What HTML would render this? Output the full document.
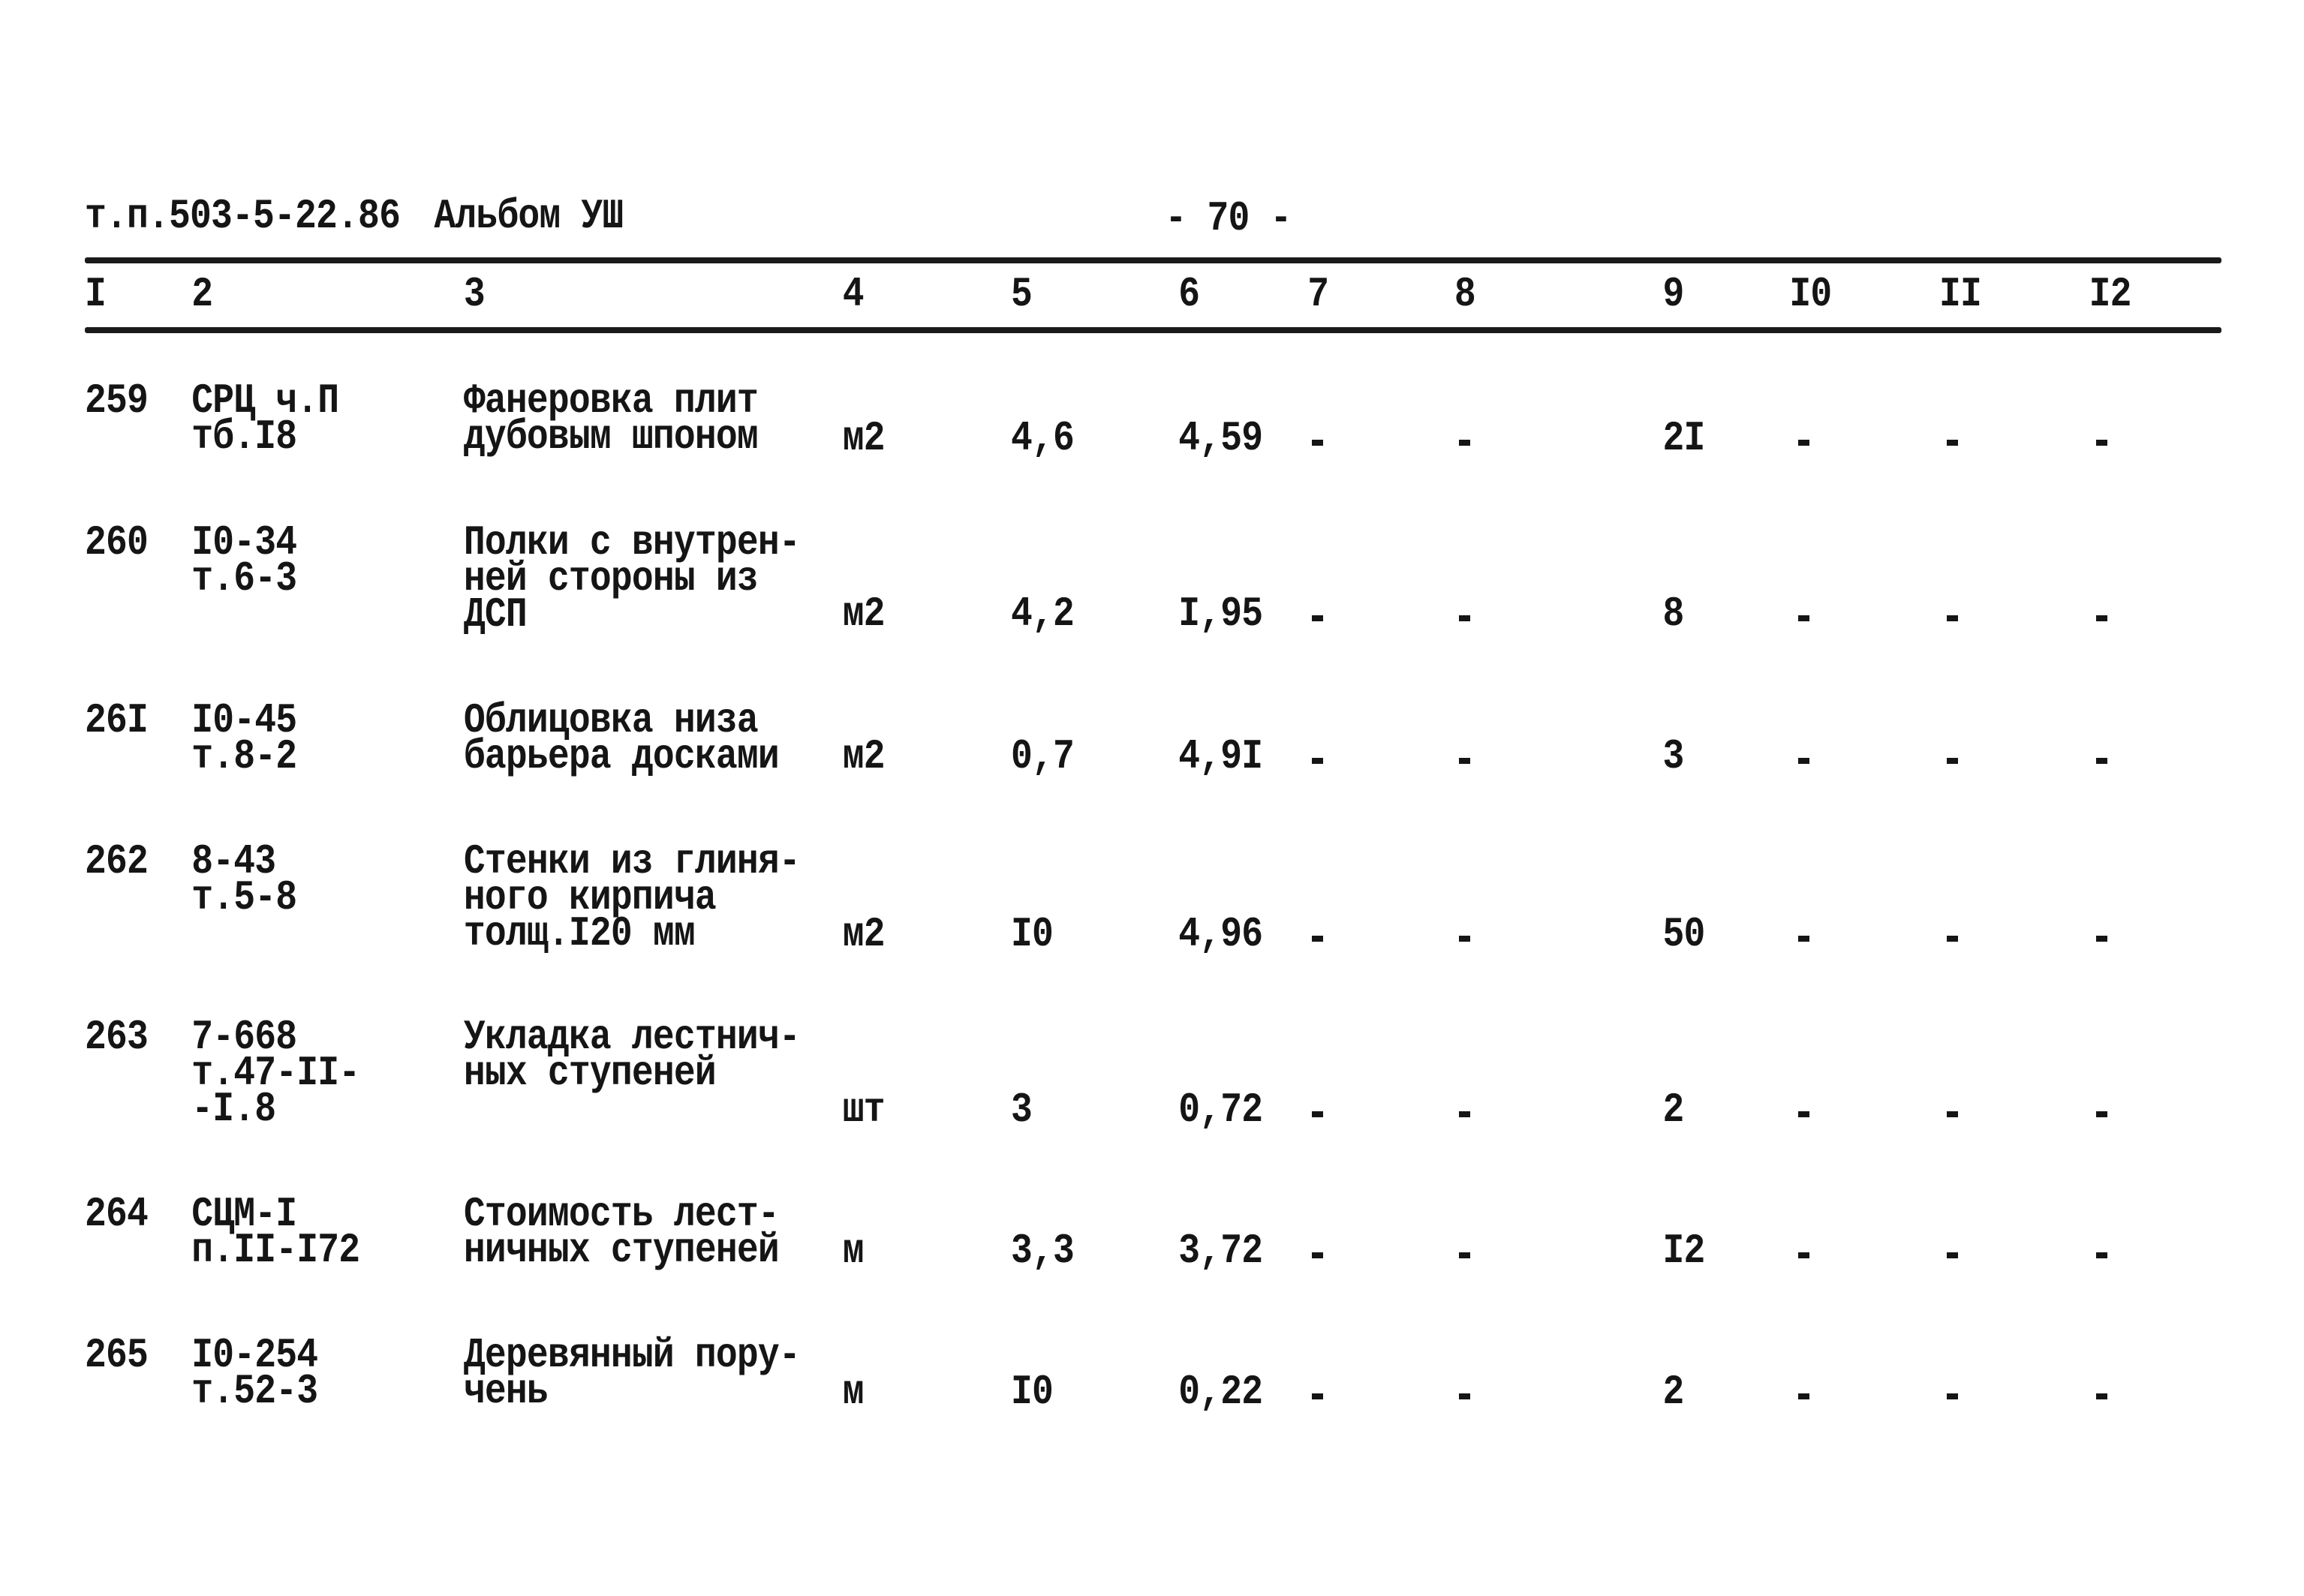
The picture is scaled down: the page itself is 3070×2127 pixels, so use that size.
<!DOCTYPE html>
<html><head><meta charset="utf-8"><style>
html,body{margin:0;padding:0;background:#fff;}
body{width:3070px;height:2127px;position:relative;overflow:hidden;}
.t{position:absolute;font-family:"Liberation Mono","DejaVu Sans Mono",monospace;font-size:48px;line-height:48px;font-weight:bold;color:#151515;white-space:pre;letter-spacing:-0.8px;transform:scaleY(1.15);transform-origin:0 37px;}
.d{position:absolute;width:15px;height:8px;background:#151515;}
.h{position:absolute;left:113px;width:2847px;height:8px;background:#1a1a1a;border-radius:3px;}
</style></head><body>
<div class="h" style="top:343px"></div>
<div class="h" style="top:436px"></div>
<div id="c"></div>
<script>
var c=document.getElementById('c');
function X(x){return 113+(x-113)*0.988;}
function t(x,b,s){var e=document.createElement('div');e.className='t';e.style.left=X(x)+'px';e.style.top=(b-37)+'px';e.textContent=s;c.appendChild(e);}
function d(x,b){var e=document.createElement('div');e.className='d';e.style.left=X(x)+'px';e.style.top=(b-14)+'px';c.appendChild(e);}
t(113,304,'т.п.503-5-22.86');t(584,304,'Альбом УШ');t(1570,307,'- 70 -');
var cols=[113,257,624,1135,1362,1588,1762,1960,2241,2412,2614,2816];
var hd=['I','2','3','4','5','6','7','8','9','I0','II','I2'];
for(var i=0;i<12;i++)t(cols[i],408,hd[i]);
var L=48;
var rows=[
 {b:550,v:600,n:'259',c2:['СРЦ ч.П','тб.I8'],c3:['Фанеровка плит','дубовым шпоном'],u:'м2',a:'4,6',p:'4,59',q:'2I'},
 {b:739,v:834,n:'260',c2:['I0-34','т.6-3'],c3:['Полки с внутрен-','ней стороны из','ДСП'],u:'м2',a:'4,2',p:'I,95',q:'8'},
 {b:976,v:1024,n:'26I',c2:['I0-45','т.8-2'],c3:['Облицовка низа','барьера досками'],u:'м2',a:'0,7',p:'4,9I',q:'3'},
 {b:1164,v:1261,n:'262',c2:['8-43','т.5-8'],c3:['Стенки из глиня-','ного кирпича','толщ.I20 мм'],u:'м2',a:'I0',p:'4,96',q:'50'},
 {b:1398,v:1495,n:'263',c2:['7-668','т.47-II-','-I.8'],c3:['Укладка лестнич-','ных ступеней'],u:'шт',a:'3',p:'0,72',q:'2'},
 {b:1634,v:1683,n:'264',c2:['СЦМ-I','п.II-I72'],c3:['Стоимость лест-','ничных ступеней'],u:'м',a:'3,3',p:'3,72',q:'I2'},
 {b:1822,v:1871,n:'265',c2:['I0-254','т.52-3'],c3:['Деревянный пору-','чень'],u:'м',a:'I0',p:'0,22',q:'2'}
];
rows.forEach(function(r){
 t(113,r.b,r.n);
 r.c2.forEach(function(s,i){t(257,r.b+i*L,s);});
 r.c3.forEach(function(s,i){t(624,r.b+i*L,s);});
 t(1135,r.v,r.u);t(1362,r.v,r.a);t(1588,r.v,r.p);t(2241,r.v,r.q);
 [1768,1966,2424,2624,2826].forEach(function(x){d(x,r.v);});
});
</script>
</body></html>
